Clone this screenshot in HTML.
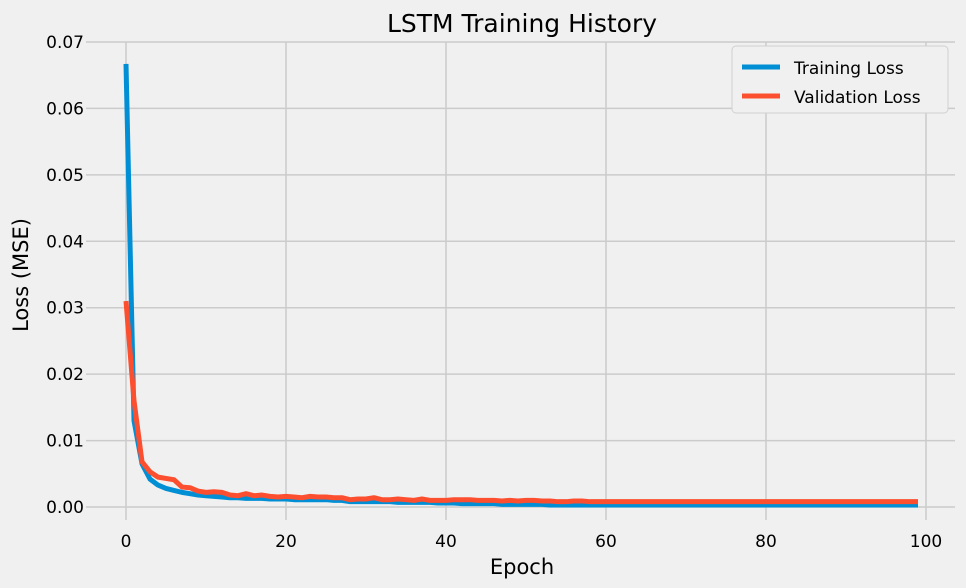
<!DOCTYPE html>
<html><head><meta charset="utf-8"><style>
html,body{margin:0;padding:0;width:966px;height:588px;overflow:hidden;background:#f0f0f0;font-family:"Liberation Sans","DejaVu Sans",sans-serif}
svg{display:block}
svg text{font-family:"DejaVu Sans","Liberation Sans",sans-serif;fill:#000}
</style></head><body>
<svg width="966" height="588" viewBox="0 0 966 588">
<rect width="966" height="588" fill="#f0f0f0"/>
<g id="grid"></g>
<g id="ticks"></g>
<g id="series"></g>
<text x="522" y="32" font-size="25" text-anchor="middle">LSTM Training History</text>
<text x="522" y="574" font-size="21" text-anchor="middle">Epoch</text>
<text transform="translate(28,275) rotate(-90)" font-size="21" text-anchor="middle">Loss (MSE)</text>
<g>
<rect x="732" y="46" width="216" height="67" rx="4" fill="#f0f0f0" stroke="#d0d0d0"/>
<line x1="742" y1="67" x2="780" y2="67" stroke="#008fd5" stroke-width="5"/>
<text x="794" y="74" font-size="17">Training Loss</text>
<line x1="742" y1="96" x2="780" y2="96" stroke="#fc4f30" stroke-width="5"/>
<text x="794" y="103" font-size="17">Validation Loss</text>
</g>
</svg>
<script>
const xTicks=[0,20,40,60,80,100];
const yTicks=[0,0.01,0.02,0.03,0.04,0.05,0.06,0.07];
const yTickLabels=["0.00","0.01","0.02","0.03","0.04","0.05","0.06","0.07"];
const trainLoss=[0.0667,0.013,0.0065,0.0042,0.0033,0.0028,0.0025,0.0022,0.002,0.0018,0.0017,0.0016,0.0015,0.0014,0.0014,0.0013,0.0013,0.0013,0.0012,0.0012,0.0012,0.0011,0.0011,0.0011,0.0011,0.0011,0.001,0.001,0.0008,0.0008,0.0008,0.0008,0.0008,0.0008,0.0007,0.0007,0.0007,0.0007,0.0007,0.0006,0.0006,0.0006,0.0005,0.0005,0.0005,0.0005,0.0005,0.0004,0.0004,0.0004,0.0004,0.0004,0.0004,0.0003,0.0003,0.0003,0.0003,0.0003,0.0003,0.0003,0.0003,0.0003,0.0003,0.0003,0.0003,0.0003,0.0003,0.0003,0.0003,0.0003,0.0003,0.0003,0.0003,0.0003,0.0003,0.0003,0.0003,0.0003,0.0003,0.0003,0.0003,0.0003,0.0003,0.0003,0.0003,0.0003,0.0003,0.0003,0.0003,0.0003,0.0003,0.0003,0.0003,0.0003,0.0003,0.0003,0.0003,0.0003,0.0003,0.0003];
const valLoss=[0.031,0.016,0.0068,0.0053,0.0045,0.0043,0.0041,0.003,0.0029,0.0024,0.0022,0.0023,0.0022,0.0018,0.0017,0.002,0.0017,0.0018,0.0016,0.0015,0.0016,0.0015,0.0014,0.0016,0.0015,0.0015,0.0014,0.0014,0.0011,0.0012,0.0012,0.0014,0.0011,0.0011,0.0012,0.0011,0.001,0.0012,0.001,0.001,0.001,0.0011,0.0011,0.0011,0.001,0.001,0.001,0.0009,0.001,0.0009,0.001,0.001,0.0009,0.0009,0.0008,0.0008,0.0009,0.0009,0.0008,0.0008,0.0008,0.0008,0.0008,0.0008,0.0008,0.0008,0.0008,0.0008,0.0008,0.0008,0.0008,0.0008,0.0008,0.0008,0.0008,0.0008,0.0008,0.0008,0.0008,0.0008,0.0008,0.0008,0.0008,0.0008,0.0008,0.0008,0.0008,0.0008,0.0008,0.0008,0.0008,0.0008,0.0008,0.0008,0.0008,0.0008,0.0008,0.0008,0.0008,0.0008];
const NS="http://www.w3.org/2000/svg";
const L=86,R=955,T=42,B=520;
function xs(v){return 126+v*8;}
function ys(v){return 507-v*6643;}
const grid=document.getElementById('grid'),ticks=document.getElementById('ticks'),ser=document.getElementById('series');
function mk(tag,attrs,parent){const e=document.createElementNS(NS,tag);for(const k in attrs)e.setAttribute(k,attrs[k]);parent.appendChild(e);return e;}
xTicks.forEach(t=>{
 const g=mk('line',{x1:xs(t),x2:xs(t),y1:T,y2:B,stroke:'#cbcbcb','stroke-width':1.5},grid);
 
 
 const tx=mk('text',{x:xs(t),y:547,'font-size':17,'text-anchor':'middle'},ticks);tx.textContent=t;
 
 
});
yTicks.forEach((t,i)=>{
 const g=mk('line',{x1:L,x2:R,y1:ys(t),y2:ys(t),stroke:'#cbcbcb','stroke-width':1.5},grid);
 
 
 const tx=mk('text',{x:84,y:ys(t)+6,'font-size':17,'text-anchor':'end'},ticks);tx.textContent=yTickLabels[i];
 
 
});
function line(arr,color,name){
 const p=mk('polyline',{points:arr.map((v,i)=>xs(i)+','+ys(v)).join(' '),fill:'none',stroke:color,'stroke-width':5,'stroke-linejoin':'round'},ser);
 
 
}
line(trainLoss,'#008fd5','training-loss-line');
line(valLoss,'#fc4f30','validation-loss-line');
</script>
</body></html>
